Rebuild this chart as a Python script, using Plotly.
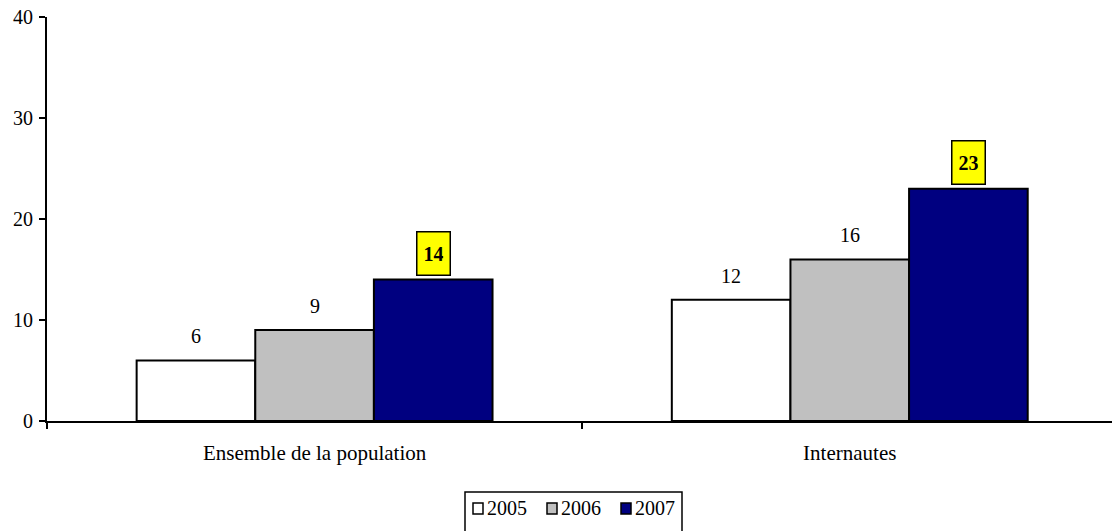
import plotly.graph_objects as go

categories = ["Ensemble de la population", "Internautes"]
years = ["2005", "2006", "2007"]
values_2005 = [6, 12]
values_2006 = [9, 16]
values_2007 = [14, 23]
colors = ["#FFFFFF", "#C0C0C0", "#000080"]
y_ticks = [0, 10, 20, 30, 40]

series = [values_2005, values_2006, values_2007]
FONT = "Times New Roman"

W, H = 1112, 531
ML, MT, MB, MR = 47, 17, 110, 0
PW, PH = W - ML - MR, H - MT - MB

bargap = 0.335
bar_w = (1 - bargap) / 3

fig = go.Figure()
for name, vals, col in zip(years, series, colors):
    fig.add_trace(go.Bar(
        x=categories, y=vals, name=name, showlegend=False,
        marker=dict(color=col, line=dict(color="black", width=2)),
    ))

annotations = []
for si, vals in enumerate(series):
    off = (si - 1) * bar_w
    for ci, v in enumerate(vals):
        if si == 2:
            annotations.append(dict(
                x=ci + off, y=v, xref="x", yref="y", text="<b>%d</b>" % v,
                showarrow=False, yanchor="bottom", yshift=4,
                font=dict(family=FONT, size=20, color="black"),
                bgcolor="#FFFF00", bordercolor="black", borderwidth=1.5,
                borderpad=6, width=20, height=30,
            ))
        else:
            annotations.append(dict(
                x=ci + off, y=v, xref="x", yref="y", text=str(v),
                showarrow=False, yanchor="bottom", yshift=11,
                font=dict(family=FONT, size=20, color="black"),
            ))


# custom legend (pixel layout converted to paper coordinates)
def px(xp):
    return (xp - ML) / PW


def py(yp):
    return (H - MB - yp) / PH


shapes = [dict(type="rect", xref="paper", yref="paper",
               x0=px(465), x1=px(682), y0=py(540), y1=py(492),
               line=dict(color="black", width=1.5), fillcolor="white", layer="above")]
lx, step = 473, 74
for i, (name, col) in enumerate(zip(years, colors)):
    x0 = lx + i * step
    shapes.append(dict(type="rect", xref="paper", yref="paper",
                       x0=px(x0), x1=px(x0 + 10), y0=py(514), y1=py(503),
                       line=dict(color="black", width=1.5), fillcolor=col, layer="above"))
    annotations.append(dict(x=px(x0 + 12), y=py(508), xref="paper", yref="paper",
                            text=name, showarrow=False, xanchor="left", yanchor="middle",
                            font=dict(family=FONT, size=20, color="black")))

fig.update_layout(
    width=W, height=H,
    margin=dict(l=ML, r=MR, t=MT, b=MB),
    paper_bgcolor="white", plot_bgcolor="white",
    barmode="group", bargap=bargap, bargroupgap=0,
    font=dict(family=FONT, size=20, color="black"),
    annotations=annotations, shapes=shapes,
    showlegend=False,
)
fig.update_xaxes(
    type="category", range=[-0.5, 1.49],
    tickson="boundaries", ticks="outside", ticklen=6, tickwidth=2, tickcolor="black",
    showline=True, linecolor="black", linewidth=2, showgrid=False, zeroline=False,
    tickfont=dict(family=FONT, size=21), ticklabelstandoff=12, automargin=False,
)
fig.update_yaxes(
    range=[0, 40], tickvals=y_ticks, ticks="outside", ticklen=6, tickwidth=2,
    tickcolor="black", showline=True, linecolor="black", linewidth=2,
    showgrid=False, zeroline=False, tickfont=dict(family=FONT, size=20),
    ticklabelstandoff=2, automargin=False, ticklabeloverflow="allow",
)

fig.write_html("out.html", config={"displayModeBar": False},
               post_script="document.body.style.margin='0';")
